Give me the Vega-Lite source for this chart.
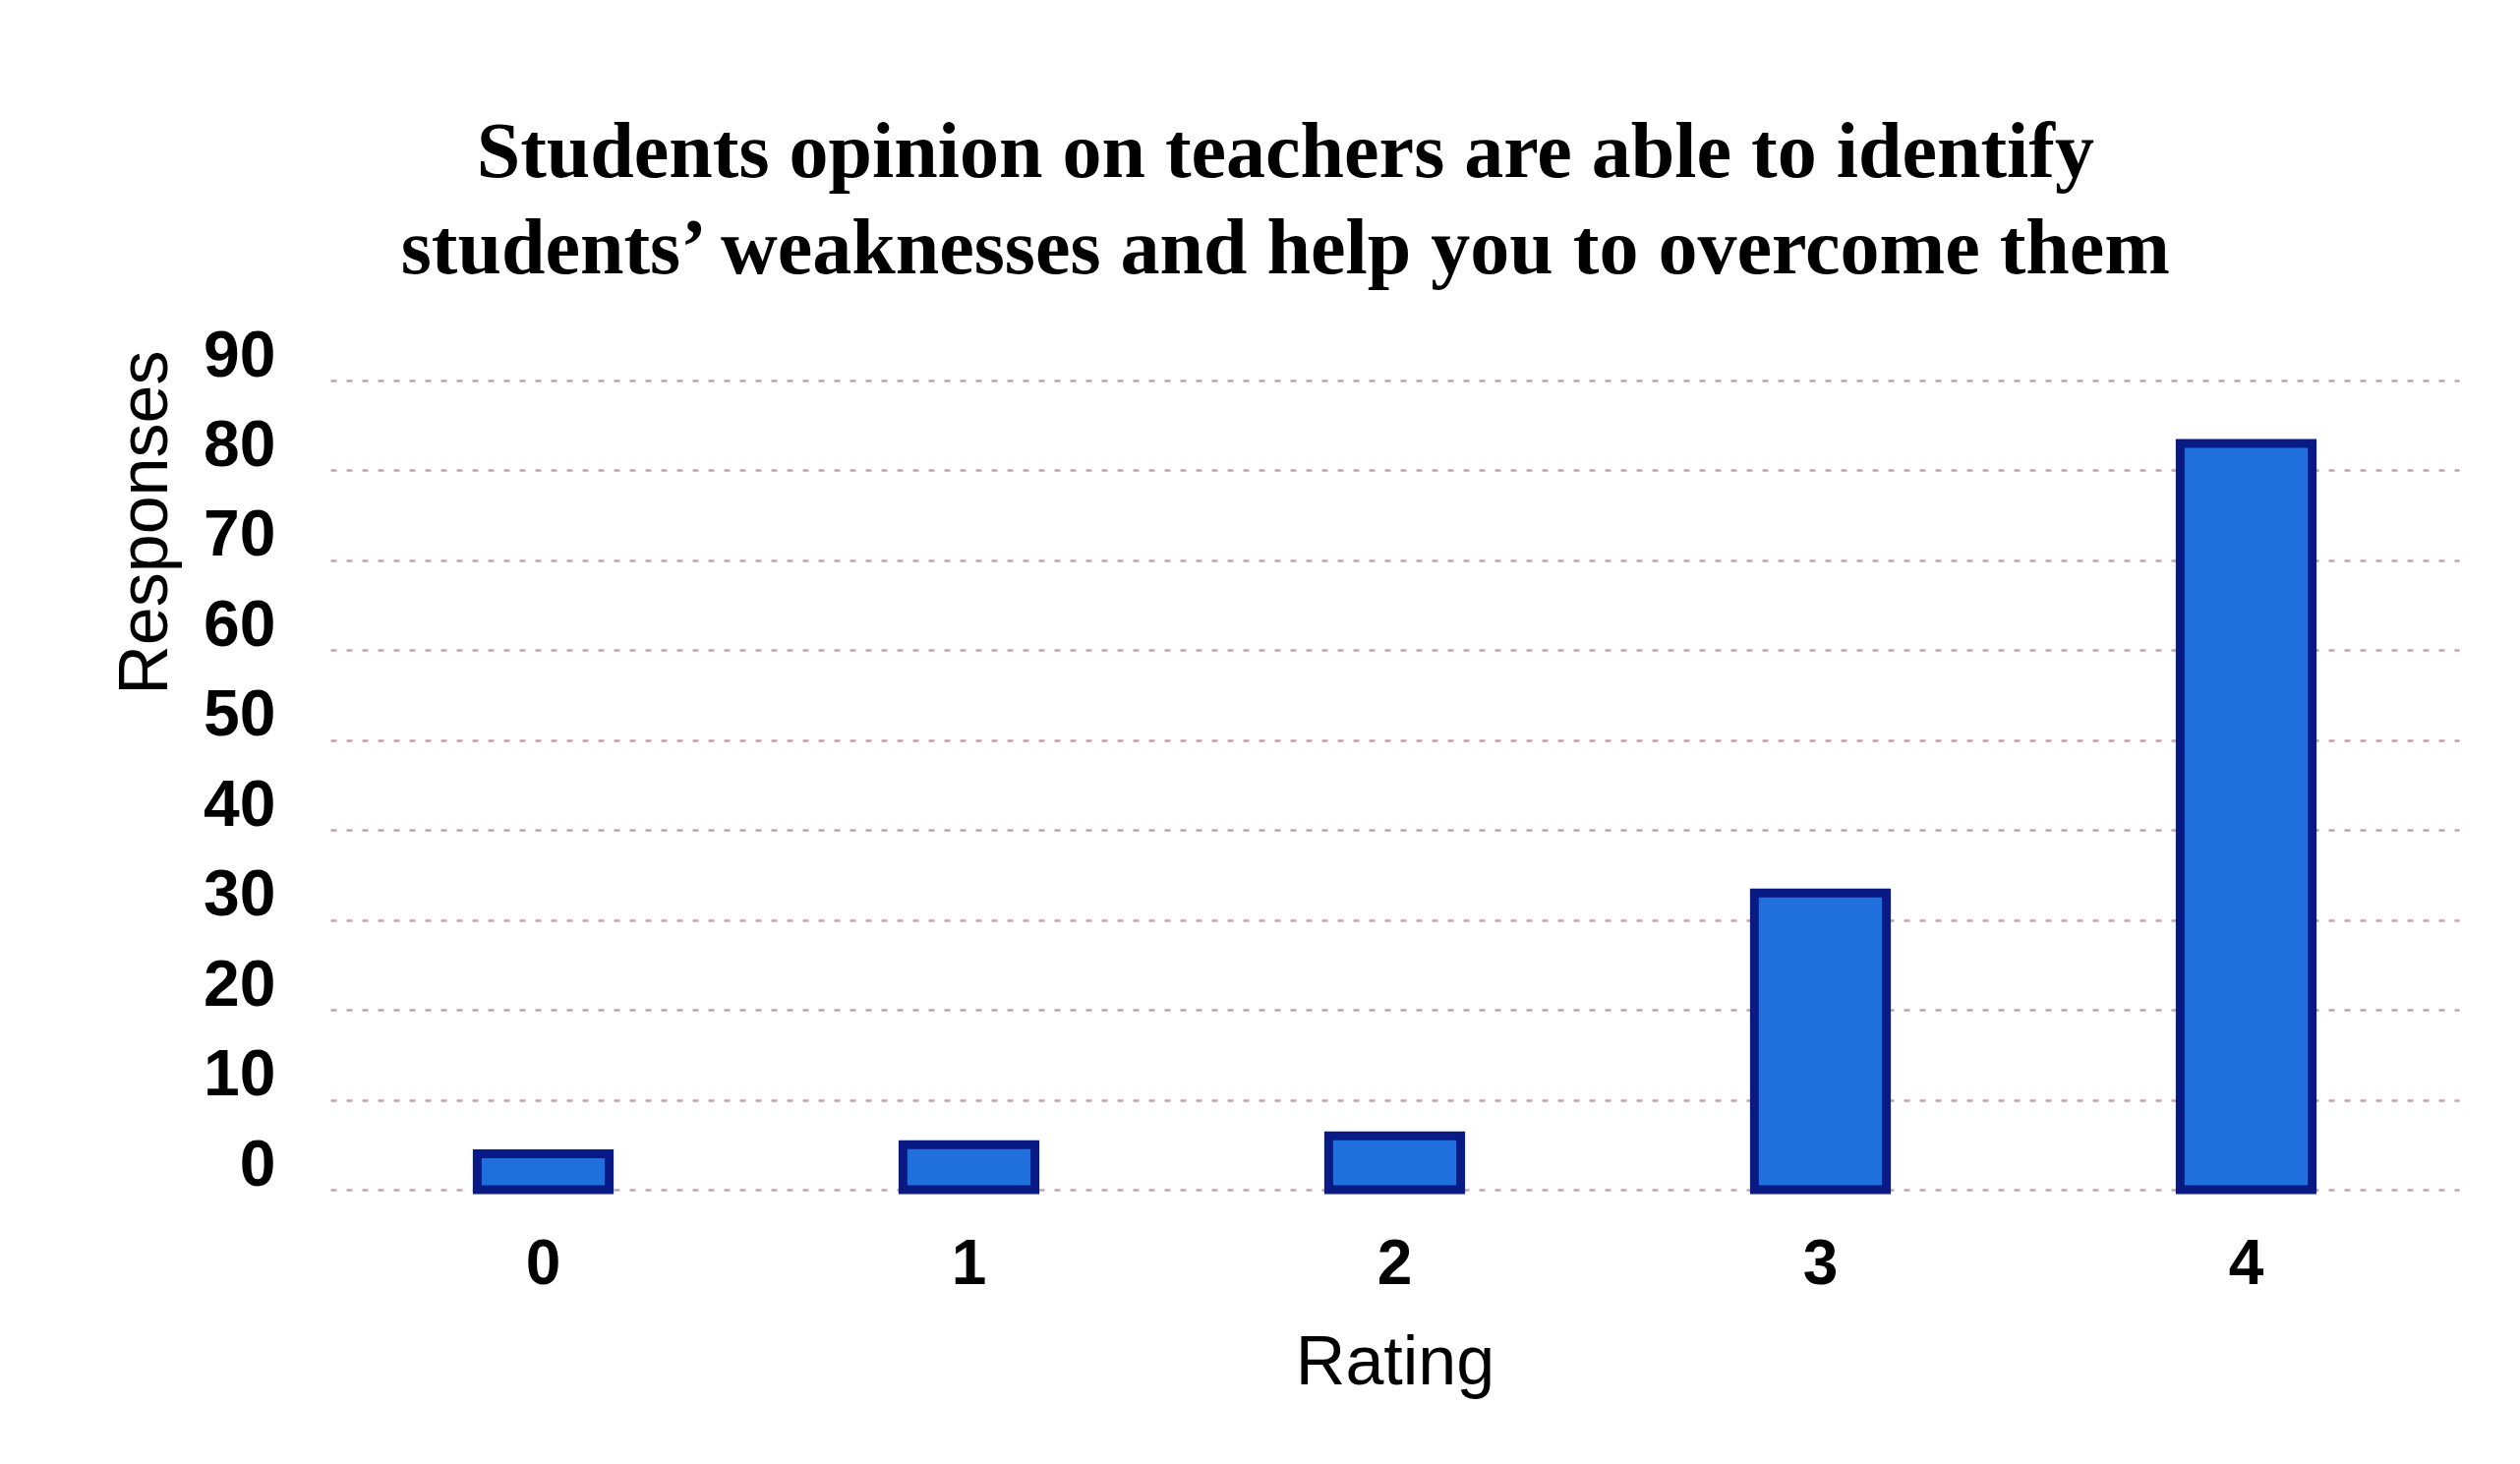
{
  "$schema": "https://vega.github.io/schema/vega-lite/v6.json",
  "width": 2165,
  "height": 823,
  "autosize": {"type": "none"},
  "padding": {"left": 336, "top": 387, "right": 62, "bottom": 279},
  "background": "white",
  "title": {
    "text": ["Students opinion on teachers are able to identify", "students’ weaknesses and help you to overcome them"],
    "font": "Liberation Serif",
    "fontSize": 80,
    "fontWeight": "bold",
    "color": "#000000",
    "anchor": "middle",
    "frame": "bounds",
    "lineHeight": 98,
    "offset": 34
  },
  "data": {
    "values": [
      {"Rating": "0", "Responses": 4},
      {"Rating": "1", "Responses": 5},
      {"Rating": "2", "Responses": 6},
      {"Rating": "3", "Responses": 33},
      {"Rating": "4", "Responses": 83}
    ]
  },
  "mark": {
    "type": "bar",
    "color": "#1f6fdc",
    "stroke": "#0a1a85",
    "strokeWidth": 9
  },
  "encoding": {
    "x": {
      "field": "Rating",
      "type": "nominal",
      "sort": null,
      "scale": {"paddingInner": 0.69, "paddingOuter": 0.345},
      "axis": {
        "title": "Rating",
        "labelAngle": 0,
        "labelFont": "Liberation Sans",
        "labelFontSize": 64,
        "labelFontWeight": "bold",
        "labelColor": "#000000",
        "labelPadding": 44,
        "ticks": false,
        "domain": false,
        "titleFont": "Liberation Sans",
        "titleFontSize": 70,
        "titleFontWeight": "normal",
        "titleColor": "#000000",
        "titlePadding": 34
      }
    },
    "y": {
      "field": "Responses",
      "type": "quantitative",
      "scale": {"domain": [0, 90], "nice": false},
      "axis": {
        "title": "Responses",
        "values": [0, 10, 20, 30, 40, 50, 60, 70, 80, 90],
        "labelFont": "Liberation Sans",
        "labelFontSize": 66,
        "labelFontWeight": "bold",
        "labelColor": "#000000",
        "labelPadding": 56,
        "labelOffset": -25,
        "ticks": false,
        "domain": false,
        "grid": true,
        "gridColor": "#a0686f",
        "gridOpacity": 0.6,
        "gridDash": [6, 10],
        "gridWidth": 2.5,
        "titleFont": "Liberation Sans",
        "titleFontSize": 70,
        "titleFontWeight": "normal",
        "titleColor": "#000000",
        "titleAnchor": "end",
        "titleY": -31,
        "titlePadding": 22
      }
    }
  },
  "config": {"view": {"stroke": null}}
}
